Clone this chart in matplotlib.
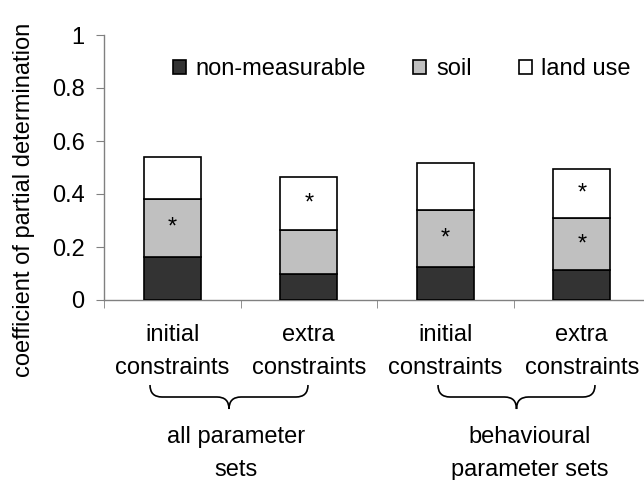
import matplotlib
matplotlib.use('Agg')
import matplotlib.pyplot as plt
from matplotlib.path import Path
from matplotlib.patches import Patch, PathPatch

plt.rcParams['font.family'] = ['Liberation Sans', 'DejaVu Sans']
plt.rcParams['font.size'] = 17

categories = ["initial\nconstraints", "extra\nconstraints",
              "initial\nconstraints", "extra\nconstraints"]
groups = ["all parameter\nsets", "behavioural\nparameter sets"]
non_measurable = [0.163, 0.098, 0.126, 0.113]
soil = [0.219, 0.165, 0.212, 0.196]
land_use = [0.158, 0.202, 0.178, 0.185]
# which segments are marked significant (*)
soil_star = [True, False, True, True]
land_star = [False, True, False, True]

series = [("non-measurable", non_measurable, "#333333"),
          ("soil", soil, "#c0c0c0"),
          ("land use", land_use, "white")]

W, H = 644, 480
fig = plt.figure(figsize=(W / 100, H / 100), dpi=100)
ax = fig.add_axes([104 / W, 1 - 300 / H, 546 / W, 265 / H])

x = list(range(len(categories)))
bottom = [0.0] * len(x)
tops = []
for name, vals, color in series:
    ax.bar(x, vals, width=0.42, bottom=bottom, color=color,
           edgecolor="black", linewidth=1.2, label=name, zorder=3)
    tops.append([b + v for b, v in zip(bottom, vals)])
    bottom = tops[-1]

for i in x:
    if soil_star[i]:
        mid = (non_measurable[i] + tops[1][i]) / 2
        ax.text(i, mid, "*", ha="center", va="center", fontsize=17)
    if land_star[i]:
        mid = (tops[1][i] + tops[2][i]) / 2
        ax.text(i, mid, "*", ha="center", va="center", fontsize=17)

ax.set_xlim(-0.5, len(x) - 0.5)
ax.set_ylim(0, 1)
ax.set_yticks([0, 0.2, 0.4, 0.6, 0.8, 1])
ax.set_yticklabels(["0", "0.2", "0.4", "0.6", "0.8", "1"])
ax.set_xticks(x)
ax.set_xticklabels(categories, linespacing=1.65)
ax.set_xticks([i - 0.5 for i in x], minor=True)
ax.tick_params(axis="x", which="major", length=0, pad=17)
ax.tick_params(axis="x", which="minor", length=6, color="#808080",
               direction="out")
ax.tick_params(axis="y", length=6, color="#808080", pad=8)
for s in ["top", "right"]:
    ax.spines[s].set_visible(False)
for s in ["left", "bottom"]:
    ax.spines[s].set_color("#808080")
    ax.spines[s].set_linewidth(1.0)

handles = [Patch(facecolor=c, edgecolor="black", linewidth=1.2, label=n)
           for n, _, c in series]
fig.legend(handles=handles, loc="center", ncol=3, frameon=False,
           bbox_to_anchor=(402 / W, 1 - 69 / H),
           handlelength=0.55, handleheight=0.55, handletextpad=0.4,
           columnspacing=2.0)

fig.text(24 / W, 1 - 377 / H, "coefficient of partial determination",
         rotation=90, ha="center", va="bottom")


def brace(x0, x1, y0, depth):
    # curly brace opening upward, in figure pixel coords (y from top)
    xm = (x0 + x1) / 2
    r = 12
    ym = y0 + depth / 2
    pts = [(x0, y0), (x0, ym), (x0 + r, ym), (xm - r, ym), (xm, ym),
           (xm, y0 + depth), (xm, ym), (xm + r, ym), (x1 - r, ym),
           (x1, ym), (x1, y0)]
    codes = [Path.MOVETO, Path.CURVE3, Path.CURVE3, Path.LINETO,
             Path.CURVE3, Path.CURVE3, Path.CURVE3, Path.CURVE3,
             Path.LINETO, Path.CURVE3, Path.CURVE3]
    verts = [(px / W, 1 - py / H) for px, py in pts]
    fig.patches.append(PathPatch(Path(verts, codes), fill=False,
                                 edgecolor="black", linewidth=1.2,
                                 transform=fig.transFigure))


brace(150, 308, 385, 24)
brace(438, 595, 385, 24)

fig.text(236 / W, 1 - 426 / H, groups[0], ha="center", va="top",
         linespacing=1.65)
fig.text(530 / W, 1 - 426 / H, groups[1], ha="center", va="top",
         linespacing=1.65)

fig.savefig("out.png", dpi=100)
